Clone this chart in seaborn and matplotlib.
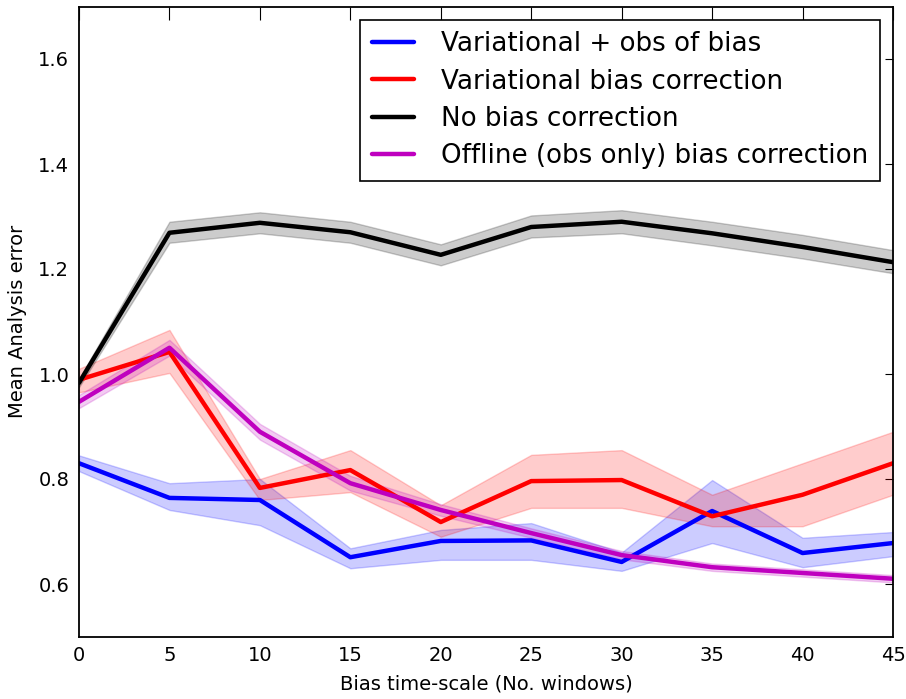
import numpy as np
import pandas as pd
import matplotlib
matplotlib.use("Agg")
import matplotlib.pyplot as plt
import seaborn as sns

# Data
x_vals = [0, 5, 10, 15, 20, 25, 30, 35, 40, 45]
series_names = ["Variational + obs of bias", "Variational bias correction",
                "No bias correction", "Offline (obs only) bias correction"]

blue_mean = [0.830, 0.764, 0.760, 0.651, 0.682, 0.683, 0.642, 0.739, 0.659, 0.678]
blue_lo   = [0.815, 0.741, 0.712, 0.630, 0.646, 0.646, 0.625, 0.678, 0.632, 0.653]
blue_hi   = [0.845, 0.792, 0.800, 0.668, 0.703, 0.716, 0.660, 0.798, 0.688, 0.699]

red_mean = [0.989, 1.042, 0.783, 0.817, 0.718, 0.796, 0.798, 0.729, 0.770, 0.830]
red_lo   = [0.965, 1.002, 0.760, 0.775, 0.690, 0.745, 0.745, 0.710, 0.710, 0.770]
red_hi   = [1.010, 1.084, 0.800, 0.855, 0.750, 0.846, 0.855, 0.770, 0.830, 0.890]

black_mean = [0.983, 1.269, 1.288, 1.270, 1.227, 1.280, 1.290, 1.268, 1.242, 1.213]
black_lo   = [0.975, 1.250, 1.268, 1.250, 1.207, 1.260, 1.268, 1.245, 1.220, 1.192]
black_hi   = [0.991, 1.290, 1.308, 1.290, 1.247, 1.302, 1.312, 1.290, 1.265, 1.236]

purple_mean = [0.947, 1.050, 0.890, 0.792, 0.741, 0.697, 0.655, 0.632, 0.621, 0.610]
purple_lo   = [0.935, 1.035, 0.875, 0.778, 0.730, 0.688, 0.647, 0.625, 0.614, 0.603]
purple_hi   = [0.960, 1.065, 0.905, 0.806, 0.752, 0.706, 0.663, 0.639, 0.628, 0.617]

y_ticks = [0.6, 0.8, 1.0, 1.2, 1.4, 1.6]
y_tick_labels = ["0.6", "0.8", "1.0", "1.2", "1.4", "1.6"]

colors = ["#0000ff", "#ff0000", "#000000", "#bf00bf"]

means = [blue_mean, red_mean, black_mean, purple_mean]
los = [blue_lo, red_lo, black_lo, purple_lo]
his = [blue_hi, red_hi, black_hi, purple_hi]

sns.set_theme(style="white")
plt.rcParams.update({
    "font.family": ["DejaVu Sans"],
    "text.color": "black",
    "axes.labelcolor": "black",
    "xtick.direction": "in",
    "ytick.direction": "in",
    "xtick.top": True,
    "ytick.right": True,
    "xtick.major.size": 9,
    "ytick.major.size": 5.5,
    "xtick.major.width": 0.8,
    "ytick.major.width": 0.8,
    "axes.edgecolor": "black",
    "axes.linewidth": 1.3,
    "xtick.color": "black",
    "ytick.color": "black",
})

fig = plt.figure(figsize=(9.06, 6.99), dpi=100)
ax = fig.add_axes([79 / 906, 1 - 636.5 / 699, (893 - 79) / 906, (636.5 - 6.5) / 699])

rows = []
for name, m in zip(series_names, means):
    for xv, yv in zip(x_vals, m):
        rows.append({"x": xv, "y": yv, "series": name})
df = pd.DataFrame(rows)

# uncertainty bands
for lo, hi, c in zip(los, his, colors):
    ax.fill_between(x_vals, lo, hi, color=c, alpha=0.2, linewidth=1, edgecolor=c)

sns.lineplot(data=df, x="x", y="y", hue="series", hue_order=series_names,
             palette=colors, linewidth=3.2, ax=ax, legend=True)

ax.set_xlim(0, 45)
ax.set_ylim(0.5, 1.7)
ax.set_xticks(x_vals)
ax.set_yticks(y_ticks)
ax.set_yticklabels(y_tick_labels)
ax.tick_params(axis="both", labelsize=14)
ax.tick_params(axis="x", pad=7)
ax.tick_params(axis="y", pad=7)
ax.set_xlabel("Bias time-scale (No. windows)", fontsize=14, labelpad=7)
ax.set_ylabel("Mean Analysis error", fontsize=14, labelpad=8)

leg = ax.legend(loc="upper right", fontsize=18.8, frameon=True, fancybox=False,
                edgecolor="black", handlelength=1.6, borderpad=0.45,
                labelspacing=0.43, handletextpad=1.05, borderaxespad=0.5)
leg.get_frame().set_linewidth(1.2)
leg.get_frame().set_alpha(1)
for line in leg.get_lines():
    line.set_linewidth(3.2)

fig.savefig("out.png", dpi=100, facecolor="white")
